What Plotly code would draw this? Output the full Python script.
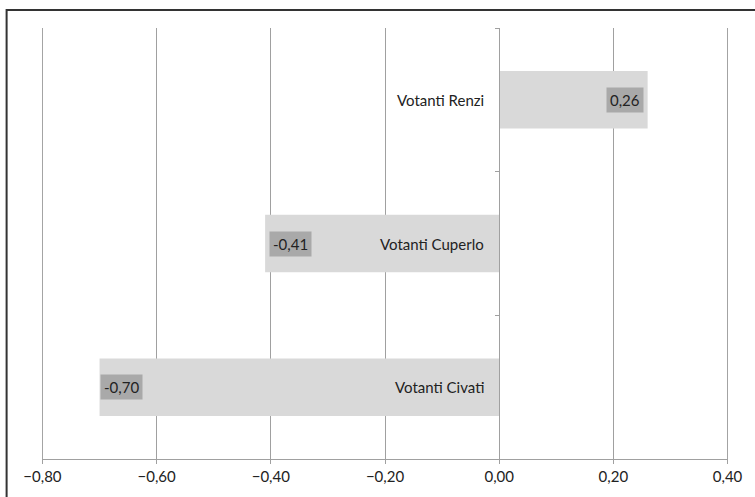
import plotly.graph_objects as go

# Correlation index per voter group
categories = ["Votanti Civati", "Votanti Cuperlo", "Votanti Renzi"]
values = [-0.70, -0.41, 0.26]
tick_values = [-0.8, -0.6, -0.4, -0.2, 0.0, 0.2, 0.4]

FONT = "Lato, 'Open Sans', sans-serif"
TEXT = "#222222"
GRID = "#a0a0a0"

fig = go.Figure(
    go.Bar(
        x=values,
        y=categories,
        orientation="h",
        marker=dict(color="#d9d9d9", line=dict(width=0)),
        hoverinfo="skip",
    )
)

def fmt(v):
    return f"{v:.2f}".replace(".", ",")

annotations = []
for cat, v in zip(categories, values):
    # group name sits just left of the zero line
    annotations.append(dict(
        x=0, y=cat, xref="x", yref="y", text=cat, showarrow=False,
        xanchor="right", xshift=-13,
        font=dict(family=FONT, size=15, color=TEXT),
    ))
    # value badge at the end of the bar
    if v >= 0:
        anchor, shift = "right", -4
    else:
        anchor, shift = "left", 4 if v > -0.6 else 0
    annotations.append(dict(
        x=v, y=cat, xref="x", yref="y", text=fmt(v), showarrow=False,
        xanchor=anchor, xshift=shift,
        font=dict(family=FONT, size=15, color=TEXT),
        bgcolor="#a9a9a9", borderpad=3,
    ))

# gridlines at both ends of the value range (plotly skips those at the edges)
edge_lines = [
    dict(type="line", xref="x", yref="paper", x0=t, x1=t, y0=0, y1=1,
         line=dict(color=GRID, width=1), layer="below")
    for t in (tick_values[0], tick_values[-1])
]

frame = dict(
    type="rect", xref="paper", yref="paper",
    x0=-0.0516, x1=1.2, y0=-0.3, y1=1.0415,
    line=dict(color="#333333", width=2), fillcolor="rgba(0,0,0,0)",
    layer="above",
)

fig.update_layout(
    width=755, height=497,
    margin=dict(l=41.5, r=25.4, t=28, b=35),
    paper_bgcolor="white", plot_bgcolor="white",
    separators=",.",
    bargap=0.6,
    showlegend=False,
    xaxis=dict(
        range=[-0.8008, 0.4008],
        tickvals=tick_values,
        tickformat=".2f",
        showgrid=True, gridcolor=GRID, gridwidth=1,
        zeroline=False,
        showline=True, linecolor=GRID, linewidth=1,
        ticks="outside", ticklen=4, tickcolor=GRID,
        tickfont=dict(family=FONT, size=15, color=TEXT),
        fixedrange=True,
    ),
    yaxis=dict(
        categoryorder="array", categoryarray=categories,
        anchor="free", position=0.8008 / 1.2016,
        showline=True, linecolor=GRID, linewidth=1,
        ticks="outside", ticklen=4, tickcolor=GRID,
        tickson="boundaries",
        showticklabels=False, showgrid=False, zeroline=False,
        fixedrange=True,
    ),
    annotations=annotations,
    shapes=edge_lines + [frame],
)

fig.write_html("out.html")
